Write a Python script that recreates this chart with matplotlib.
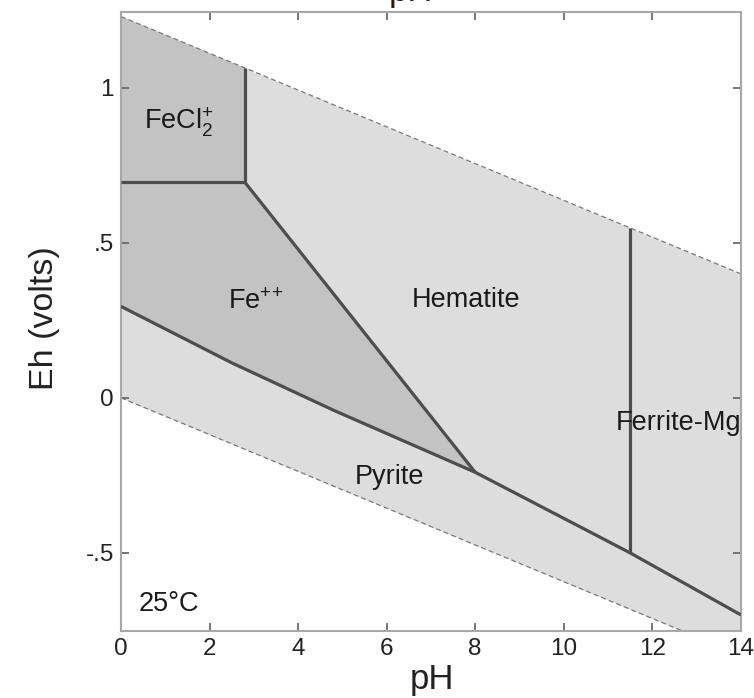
"""Eh-pH stability diagram for iron phases at 25 C, saved as out.png."""

import matplotlib.pyplot as plt

# water stability limits (Eh in volts) at pH 0 and 14
PH_WATER = [0.0, 14.0]
EH_O2_LIMIT = [1.23, 0.40]
EH_H2_LIMIT = [0.0, -0.83]

# phase boundaries (pH, Eh)
FECL2_FE_PH = [0.0, 2.8]
FECL2_FE_EH = [0.695, 0.695]
FECL2_HEM_PH = [2.8, 2.8]
FECL2_HEM_EH = [0.695, 1.064]
FE_HEM_PH = [2.8, 8.0]
FE_HEM_EH = [0.695, -0.24]
PYRITE_PH = [0.0, 2.5, 4.8, 8.0, 11.5, 14.0]
PYRITE_EH = [0.295, 0.113, -0.04, -0.24, -0.50, -0.70]
FERRITE_PH = [11.5, 11.5]
FERRITE_EH = [-0.50, 0.549]

# field labels: (text, pH, Eh)
LABELS = [
    (r"FeCl$_2^{{+}}$", 1.3, 0.89),
    (r"Fe$^{{+}{+}}$", 3.05, 0.31),
    ("Hematite", 7.8, 0.315),
    ("Ferrite-Mg", 12.6, -0.08),
    ("Pyrite", 6.07, -0.255),
    ("25°C", 1.07, -0.665),
]

X_TICKS = [0, 2, 4, 6, 8, 10, 12, 14]
Y_TICKS = [-0.5, 0.0, 0.5, 1.0]
Y_TICK_LABELS = ["-.5", "0", ".5", "1"]

LIGHT = "#dddddd"
DARK = "#c3c3c3"
LINE = "#4d4d4d"


def main():
    plt.rcParams.update({
        "font.family": ["Liberation Sans", "DejaVu Sans"],
        "mathtext.fontset": "custom",
        "mathtext.rm": "Liberation Sans",
        "mathtext.it": "Liberation Sans",
    })

    fig = plt.figure(figsize=(7.54, 6.98), dpi=100)
    ax = fig.add_axes([0.1605, 0.096, 0.822, 0.887])

    # stability field of water
    ax.fill_between(PH_WATER, EH_H2_LIMIT, EH_O2_LIMIT, color=LIGHT, lw=0, zorder=1)
    ax.plot(PH_WATER, EH_O2_LIMIT, color="#7a7a7a", lw=0.9, ls=(0, (4, 2.5)), zorder=2)
    ax.plot(PH_WATER, EH_H2_LIMIT, color="#7a7a7a", lw=0.9, ls=(0, (4, 2.5)), zorder=2)

    # aqueous iron fields
    fecl_x = FECL2_FE_PH + FECL2_HEM_PH + [PH_WATER[0]]
    fecl_y = FECL2_FE_EH + FECL2_HEM_EH + [EH_O2_LIMIT[0]]
    ax.fill(fecl_x, fecl_y, color=DARK, lw=0, zorder=1.5)
    n = PYRITE_PH.index(FE_HEM_PH[1])
    fe_x = [FECL2_FE_PH[0]] + FE_HEM_PH + PYRITE_PH[:n + 1][::-1]
    fe_y = [FECL2_FE_EH[0]] + FE_HEM_EH + PYRITE_EH[:n + 1][::-1]
    ax.fill(fe_x, fe_y, color=DARK, lw=0, zorder=1.5)

    for xs, ys in [(FECL2_FE_PH, FECL2_FE_EH), (FECL2_HEM_PH, FECL2_HEM_EH),
                   (FE_HEM_PH, FE_HEM_EH), (PYRITE_PH, PYRITE_EH),
                   (FERRITE_PH, FERRITE_EH)]:
        ax.plot(xs, ys, color=LINE, lw=2.3, solid_capstyle="butt",
                solid_joinstyle="miter", zorder=3)

    for text, x, y in LABELS:
        ax.text(x, y, text, ha="center", va="center", fontsize=19.5,
                color="#1a1a1a", zorder=4)

    ax.set_xlim(0, 14)
    ax.set_ylim(-0.752, 1.245)
    ax.set_xticks(X_TICKS)
    ax.set_yticks(Y_TICKS)
    ax.set_yticklabels(Y_TICK_LABELS)
    ax.tick_params(direction="in", top=True, right=True, length=6, width=1.3,
                   color="#6a6a6a", labelsize=17.5, labelcolor="#222222", pad=5)
    for sp in ax.spines.values():
        sp.set_color("#a8a8a8")
        sp.set_linewidth(1.5)

    fig.text(44 / 754, 1 - 318 / 698, "Eh (volts)", rotation=90,
             ha="center", va="center", fontsize=24.5, color="#222222")
    fig.text(432 / 754, 1 - 680 / 698, "pH", ha="center", va="center",
             fontsize=25, color="#222222")
    # axis label of the panel above, clipped by the top edge
    fig.text(411 / 754, 1 - 8 / 698, "pH", ha="center", va="bottom",
             fontsize=25, color="#2a1a10")

    fig.savefig("out.png", dpi=100)


if __name__ == "__main__":
    main()
